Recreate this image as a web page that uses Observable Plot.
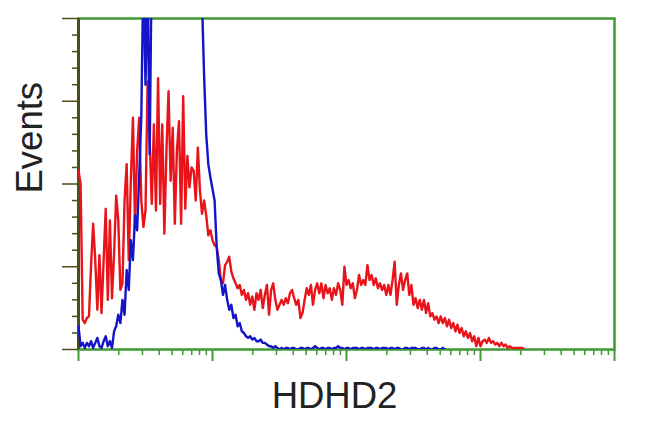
<!DOCTYPE html>
<html>
<head>
<meta charset="utf-8">
<script src="https://cdn.jsdelivr.net/npm/d3@7"></script>
<script src="https://cdn.jsdelivr.net/npm/@observablehq/plot@0.6"></script>
<style>
  html, body { margin: 0; padding: 0; background: #fff; }
</style>
</head>
<body>
<div id="chart"></div>
<script>
// Histogram counts per channel (256 channels over 4 log decades)
const redCounts = [
  108,100,18,16,19,20,51,76,54,24,
  57,22,54,85,30,78,31,58,93,78,
  36,40,90,112,54,102,140,74,120,140,
  90,74,84,162,126,88,136,84,164,88,
  136,70,120,156,102,134,76,120,138,76,
  153,85,117,98,110,108,90,122,96,82,
  90,81,69,72,66,63,62,54,42,40,
  51,53,56,47,43,40,37,39,33,36,
  30,34,27,32,24,34,30,36,25,33,
  39,21,36,40,30,24,27,30,27,31,
  28,34,36,31,27,30,19,22,30,37,
  33,39,27,36,40,34,40,31,39,34,
  37,30,37,33,40,36,27,50,39,42,
  37,40,31,36,45,39,42,39,51,42,
  45,39,43,37,40,36,39,33,39,33,
  42,53,27,39,46,36,42,46,33,39,
  27,31,25,30,24,30,22,28,20,22,
  18,20,16,20,16,19,14,18,13,16,
  11,15,10,13,8,11,7,10,5,8,
  2,7,2,5,6,4,7,4,5,3,
  4,2,4,2,3,1,2,1,1,1,
  1,1,1,0
];
const blueCounts = [
  14,2,4,1,4,2,5,1,4,7,
  2,1,5,8,2,5,1,11,14,21,
  16,30,21,48,36,66,54,81,72,105,
  141,230,160,225,118,240,270,300,320,340,
  350,360,355,350,345,340,335,330,320,310,
  300,290,280,270,260,250,240,230,220,210,
  165,130,112,104,97,90,62,46,42,33,
  39,30,24,27,19,21,14,16,11,10,
  8,7,8,6,7,5,5,6,4,4,
  3,2,2,1,2,1,0,1,0,1,
  1,0,1,1,0,0,1,1,0,1,
  1,0,1,2,1,0,1,1,0,1,
  1,0,1,1,2,1,1,0,1,1,
  0,1,1,1,0,1,1,0,1,1,
  1,0,1,1,0,1,1,1,0,1,
  1,0,1,1,0,0,1,1,0,1,
  1,1,0,0,1,1,0,1,0,0,
  1,1,0,0,1,0
];
// Axis ticks (channel positions): decades every 64 channels
const decades = [0, 64, 128, 192, 256];
const minorOffsets = [19.27, 30.54, 38.53, 44.74, 49.80, 54.09, 57.80, 61.07];
const yMajor = [0, 50, 100, 150, 200];
const yMinor = [10,20,30,40,60,70,80,90,110,120,130,140,160,170,180,190];
const xLabel = "HDHD2";
const yLabel = "Events";

const red = redCounts.map((c, i) => ({ch: i, c}));
const blue = blueCounts.map((c, i) => ({ch: i, c}));
const xMinor = decades.slice(0, 4).flatMap(d => minorOffsets.map(o => d + o));

const green = "#3f9a33";
const olive = "#4e4c1c";

const chart = Plot.plot({
  width: 650,
  height: 432,
  marginLeft: 78,
  marginRight: 36,
  marginTop: 18,
  marginBottom: 83,
  x: {domain: [0, 256]},
  y: {domain: [0, 200]},
  style: {background: "#fff", fontFamily: "'Liberation Sans', Arial, sans-serif"},
  marks: [
    Plot.frame({stroke: green, strokeWidth: 2.5}),
    Plot.axisX({ticks: xMinor, tickSize: 6, tickFormat: () => "", stroke: green, strokeWidth: 1.5, label: null}),
    Plot.axisX({ticks: decades, tickSize: 12, tickFormat: () => "", stroke: green, strokeWidth: 2, label: null}),
    Plot.axisY({ticks: yMinor, tickSize: 6, tickFormat: () => "", stroke: olive, strokeWidth: 1.5, label: null}),
    Plot.axisY({ticks: yMajor, tickSize: 16, tickFormat: () => "", stroke: olive, strokeWidth: 1.5, label: null}),
    Plot.ruleX([0], {stroke: olive, strokeWidth: 3}),
    Plot.line(red, {x: "ch", y: "c", stroke: "#e8141a", strokeWidth: 2.4, clip: true}),
    Plot.line(blue, {x: "ch", y: "c", stroke: "#1414c8", strokeWidth: 2.4, clip: true}),
    Plot.text([xLabel], {frameAnchor: "bottom", lineAnchor: "bottom", dy: 58, dx: -12, fontSize: 36.5, fill: "#222"}),
    Plot.text([yLabel], {frameAnchor: "left", lineAnchor: "bottom", rotate: -90, dx: -37, dy: 9.5, fontSize: 36.5, fill: "#222"})
  ]
});
document.getElementById("chart").appendChild(chart);
</script>
</body>
</html>
